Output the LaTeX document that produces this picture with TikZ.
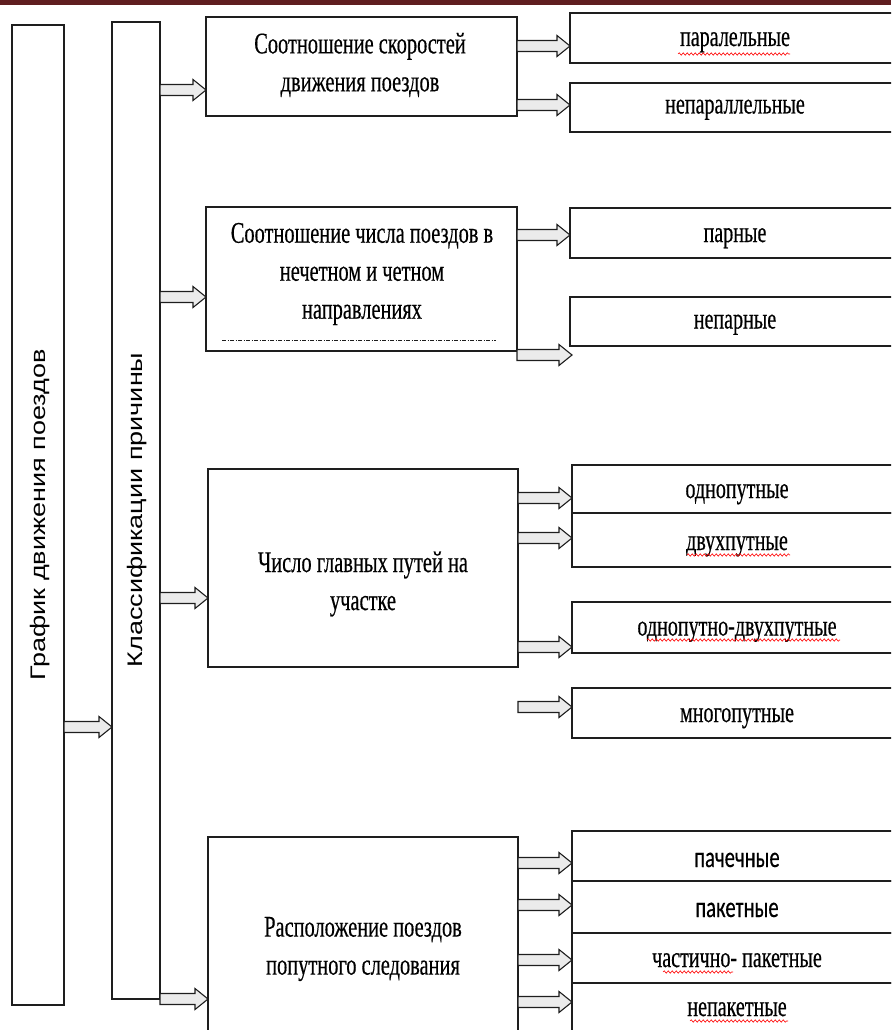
\documentclass[tikz,border=0pt]{standalone}
\usepackage{fontspec}
\setmainfont{Liberation Serif}
\newfontfamily\cserif[FakeStretch=0.68,FakeBold=0.4]{Liberation Serif}
\newfontfamily\csans[FakeStretch=0.7,FakeBold=0.3]{Carlito}
\newfontfamily\rsans{Liberation Sans}
\usetikzlibrary{arrows.meta,decorations.pathmorphing,calc}
\definecolor{topbar}{RGB}{96,30,32}
\definecolor{edge}{RGB}{30,30,30}
\begin{document}
\begin{tikzpicture}[x=1pt,y=-1pt,
  box/.style={draw=edge, line width=1.2pt, inner sep=0pt, outer sep=0pt, anchor=north west},
  bigtext/.style={font=\cserif\fontsize{30}{38}\selectfont, align=center, inner sep=0pt},
  lbl/.style={font=\cserif\fontsize{29.5}{32}\selectfont, anchor=base, inner sep=0pt},
  slbl/.style={font=\csans\fontsize{29.5}{32}\selectfont, anchor=base, inner sep=0pt},
  rot/.style={rotate=90, font=\rsans\fontsize{27}{30}\selectfont, inner sep=0pt},
  arr/.style={draw=edge, line width=1.1pt, fill=black!8, line join=miter,
    to path={($(\tikztostart)+(0,-5.5)$) -- ($(\tikztotarget)+(-13,-5.5)$) -- ($(\tikztotarget)+(-13,-10.5)$) -- (\tikztotarget) -- ($(\tikztotarget)+(-13,10.5)$) -- ($(\tikztotarget)+(-13,5.5)$) -- ($(\tikztostart)+(0,5.5)$) -- cycle}},
  wavy/.style={draw=red, line width=0.6pt, decorate, decoration={snake, amplitude=1.2pt, segment length=4pt}}
]
\useasboundingbox (0,0) rectangle (891,1030);
\clip (0,0) rectangle (891,1030);
\fill[topbar] (0,0) rectangle (891,5);

% vertical boxes
\node[box, minimum width=52pt, minimum height=980pt] (B1) at (12,25) {};
\node[box, minimum width=48pt, minimum height=977pt] (B2) at (112,22) {};
\node[rot] (tB1) at (40,515) {\scalebox{1}[0.78]{График движения поездов}};
\node[rot] (tB2) at (137,510) {\scalebox{1}[0.78]{Классификации причины}};

% middle boxes
\node[box, minimum width=311pt, minimum height=99pt] (A) at (206,17) {};
\node[box, minimum width=311pt, minimum height=144pt] (Bb) at (206,207) {};
\node[box, minimum width=310pt, minimum height=198pt] (C) at (208,469) {};
\node[box, minimum width=310pt, minimum height=260pt] (D) at (208,837) {};

\node[bigtext] (tA) at (360,65) {Соотношение скоростей\\движения поездов};
\node[bigtext] (tB) at (362,274) {Соотношение числа поездов в\\нечетном и четном\\направлениях};
\draw[edge, line width=1pt, dash pattern=on 4pt off 1.5pt on 1pt off 1.5pt] (222,340) -- (496,340);
\node[bigtext] (tC) at (363,584) {Число главных путей на\\участке};
\node[bigtext] (tD) at (363,949) {Расположение поездов\\попутного следования};

% right boxes
\node[box, minimum width=330pt, minimum height=50pt] (r1) at (570,13) {};
\node[lbl] (l1) at ([yshift=-8pt]r1.center) {паралельные};
\node[box, minimum width=330pt, minimum height=49pt] (r2) at (570,83) {};
\node[lbl] (l2) at ([yshift=-6pt]r2.center) {непараллельные};
\node[box, minimum width=330pt, minimum height=50pt] (r3) at (570,208) {};
\node[lbl] (l3) at ([yshift=-9pt]r3.center) {парные};
\node[box, minimum width=330pt, minimum height=49pt] (r4) at (570,297) {};
\node[lbl] (l4) at ([yshift=-7pt]r4.center) {непарные};
\node[box, minimum width=330pt, minimum height=48pt] (r5) at (572,465) {};
\node[lbl] (l5) at ([yshift=-9pt]r5.center) {однопутные};
\node[box, minimum width=330pt, minimum height=54pt] (r6) at (572,513) {};
\node[lbl] (l6) at ([yshift=-10pt]r6.center) {двухпутные};
\node[box, minimum width=330pt, minimum height=51pt] (r7) at (572,602) {};
\node[lbl] (l7) at ([yshift=-8pt]r7.center) {однопутно-двухпутные};
\node[box, minimum width=330pt, minimum height=50pt] (r8) at (572,688) {};
\node[lbl] (l8) at ([yshift=-9pt]r8.center) {многопутные};
\node[box, minimum width=330pt, minimum height=50pt] (r9) at (572,831) {};
\node[slbl] (l9) at ([yshift=-11pt]r9.center) {пачечные};
\node[box, minimum width=330pt, minimum height=52pt] (r10) at (572,881) {};
\node[slbl] (l10) at ([yshift=-10pt]r10.center) {пакетные};
\node[box, minimum width=330pt, minimum height=50pt] (r11) at (572,933) {};
\node[lbl] (l11) at ([yshift=-9pt]r11.center) {частично- пакетные};
\node[box, minimum width=330pt, minimum height=60pt] (r12) at (572,983) {};
\node[lbl] (l12) at ([yshift=-33pt]r12.north) {непакетные};

% spell-check underlines
\draw[wavy] (678,54) -- (790,54);
\draw[wavy] (687,555) -- (790,555);
\draw[wavy] (647,640) -- (840,640);
\draw[wavy] (663,972) -- (733,972);
\draw[wavy] (690,1021) -- (788,1021);

% connectors
\draw[arr] (B1.east |- 0,727) to (B2.west |- 0,727);
\draw[arr] (B2.east |- 0,90) to (A.west |- 0,90);
\draw[arr] (B2.east |- 0,297) to (Bb.west |- 0,297);
\draw[arr] (B2.east |- 0,598) to (C.west |- 0,598);
\draw[arr] (B2.east |- 0,999) to (D.west |- 0,999);

\draw[arr] (A.east |- 0,46) to (r1.west |- 0,46);
\draw[arr] (A.east |- 0,105) to (r2.west |- 0,105);
\draw[arr] (Bb.east |- 0,235) to (r3.west |- 0,235);
\coordinate (e4) at (572,355);
\draw[arr] (Bb.east |- 0,355) to (e4);

\draw[arr] (C.east |- 0,498) to (r5.west |- 0,498);
\draw[arr] (C.east |- 0,538) to (r6.west |- 0,538);
\draw[arr] (C.east |- 0,647) to (r7.west |- 0,647);
\coordinate (e8) at (572,707);
\draw[arr] (C.east |- 0,707) to (e8);

\draw[arr] (D.east |- 0,863) to (r9.west |- 0,863);
\draw[arr] (D.east |- 0,905) to (r10.west |- 0,905);
\draw[arr] (D.east |- 0,960) to (r11.west |- 0,960);
\draw[arr] (D.east |- 0,1002) to (r12.west |- 0,1002);
\end{tikzpicture}
\end{document}
